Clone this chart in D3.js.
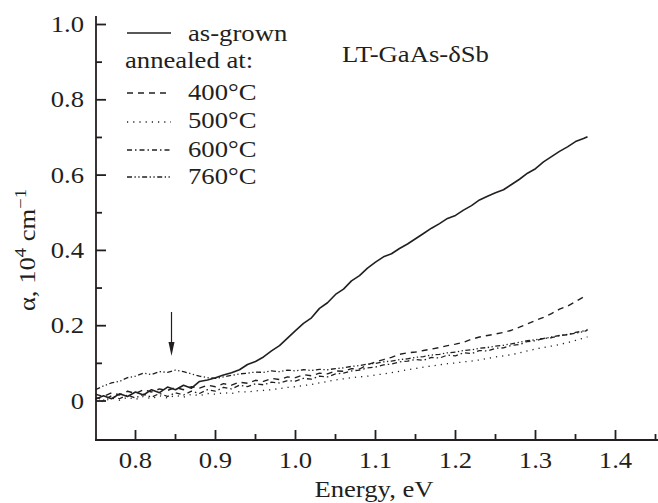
<!DOCTYPE html>
<html><head><meta charset="utf-8">
<script src="https://cdn.jsdelivr.net/npm/d3@7"></script>
<style>
html,body{margin:0;padding:0;background:#fff;}
svg text{font-family:"Liberation Serif","Times New Roman","DejaVu Serif",serif;}
</style></head>
<body><svg id="c" width="658" height="503"></svg>
<script>
const energy = [0.75,0.76,0.77,0.78,0.79,0.80,0.81,0.82,0.83,0.84,0.85,0.86,0.87,0.88,0.89,0.90,0.91,0.92,0.93,0.94,0.95,0.96,0.97,0.98,0.99,1.00,1.01,1.02,1.03,1.04,1.05,1.06,1.07,1.08,1.09,1.10,1.11,1.12,1.13,1.14,1.15,1.16,1.17,1.18,1.19,1.20,1.21,1.22,1.23,1.24,1.25,1.26,1.27,1.28,1.29,1.30,1.31,1.32,1.33,1.34,1.35,1.36,1.365];
const asGrown = [0.005,0.014,0.006,0.019,0.012,0.024,0.016,0.030,0.022,0.037,0.030,0.042,0.034,0.052,0.056,0.062,0.069,0.075,0.083,0.097,0.105,0.117,0.133,0.147,0.167,0.187,0.206,0.221,0.246,0.261,0.283,0.297,0.319,0.333,0.353,0.369,0.383,0.391,0.405,0.417,0.431,0.445,0.459,0.471,0.485,0.493,0.507,0.519,0.534,0.544,0.553,0.561,0.575,0.589,0.605,0.617,0.635,0.649,0.663,0.675,0.689,0.697,0.702];
const ann400 = [0.018,0.012,0.022,0.016,0.026,0.020,0.030,0.024,0.032,0.028,0.036,0.030,0.038,0.034,0.042,0.038,0.046,0.042,0.050,0.047,0.055,0.052,0.060,0.057,0.064,0.062,0.070,0.067,0.074,0.072,0.080,0.079,0.086,0.085,0.096,0.104,0.110,0.116,0.124,0.128,0.130,0.134,0.138,0.142,0.147,0.151,0.156,0.164,0.170,0.174,0.178,0.182,0.188,0.196,0.205,0.214,0.222,0.232,0.244,0.252,0.264,0.276,0.280];
const ann500 = [0.004,-0.002,0.008,0.002,0.010,0.004,0.012,0.006,0.014,0.008,0.015,0.010,0.018,0.014,0.020,0.018,0.022,0.020,0.025,0.024,0.027,0.028,0.030,0.033,0.036,0.038,0.041,0.044,0.048,0.052,0.056,0.059,0.062,0.064,0.066,0.069,0.072,0.075,0.079,0.083,0.086,0.090,0.093,0.096,0.099,0.101,0.104,0.106,0.109,0.113,0.117,0.120,0.123,0.128,0.133,0.138,0.142,0.146,0.150,0.155,0.161,0.167,0.170];
const ann600 = [0.010,0.002,0.014,0.006,0.016,0.008,0.018,0.010,0.020,0.012,0.022,0.016,0.026,0.020,0.030,0.026,0.036,0.032,0.042,0.038,0.046,0.043,0.050,0.048,0.054,0.053,0.060,0.058,0.066,0.064,0.072,0.074,0.080,0.082,0.088,0.090,0.096,0.098,0.104,0.106,0.110,0.108,0.116,0.114,0.122,0.120,0.128,0.126,0.134,0.133,0.140,0.141,0.148,0.150,0.158,0.160,0.166,0.168,0.174,0.176,0.182,0.186,0.190];
const ann760 = [0.030,0.040,0.048,0.052,0.062,0.066,0.074,0.070,0.078,0.076,0.082,0.078,0.072,0.066,0.062,0.060,0.064,0.068,0.072,0.074,0.077,0.076,0.080,0.078,0.082,0.080,0.083,0.081,0.084,0.083,0.086,0.088,0.092,0.094,0.098,0.100,0.104,0.106,0.110,0.112,0.116,0.118,0.122,0.124,0.128,0.130,0.134,0.136,0.140,0.142,0.146,0.148,0.152,0.156,0.160,0.163,0.166,0.170,0.174,0.177,0.180,0.184,0.188];
const seriesNames = ["as-grown","400°C","500°C","600°C","760°C"];
const xTicks = [0.8,0.9,1.0,1.1,1.2,1.3,1.4];
const xMinor = [0.85,0.95,1.05,1.15,1.25,1.35,1.45];
const yTicks = [0,0.2,0.4,0.6,0.8,1.0];
const yMinor = [0.1,0.3,0.5,0.7,0.9];
const yTickLabels = ["0","0.2","0.4","0.6","0.8","1.0"];
const arrowE = 0.845;

const ink = "#231f20";
const FF = "'Liberation Serif','Times New Roman','DejaVu Serif',serif";
const svg = d3.select("#c");
const x = d3.scaleLinear().domain([0.75,1.45]).range([95.5,655.5]);
const y = d3.scaleLinear().domain([0,1]).range([401,24.5]);
const x0 = 96, yB = 440;

const styles = [
  {data: asGrown, dash: null, w: 1.6},
  {data: ann400, dash: "6,5", w: 1.4},
  {data: ann500, dash: "1.2,5", w: 1.3},
  {data: ann600, dash: "5,3,1.5,3", w: 1.3},
  {data: ann760, dash: "5,2.5,1.3,2.5,1.3,2.5", w: 1.3}
];

const line = d3.line().x((d,i)=>x(energy[i])).y(d=>y(d));
const g = svg.append("g");
[4,3,2,1,0].forEach(k=>{
  const s = styles[k];
  g.append("path").datum(s.data).attr("d", line)
    .attr("fill","none").attr("stroke",ink).attr("stroke-width",s.w)
    .attr("stroke-linejoin","round")
    .attr("stroke-dasharray", s.dash);
});

const ax = svg.append("g").attr("stroke",ink).attr("stroke-width",1.8);
ax.append("line").attr("x1",x0).attr("x2",x0).attr("y1",16).attr("y2",yB+0.9);
ax.append("line").attr("x1",x0-0.9).attr("x2",658).attr("y1",yB).attr("y2",yB);
yTicks.forEach(v=>ax.append("line").attr("x1",x0).attr("x2",x0+10).attr("y1",y(v)).attr("y2",y(v)));
yMinor.forEach(v=>ax.append("line").attr("x1",x0).attr("x2",x0+6).attr("y1",y(v)).attr("y2",y(v)));
xTicks.forEach(v=>ax.append("line").attr("x1",x(v)).attr("x2",x(v)).attr("y1",yB).attr("y2",yB-10));
xMinor.forEach(v=>ax.append("line").attr("x1",x(v)).attr("x2",x(v)).attr("y1",yB).attr("y2",yB-6));

const fs = 23, SX = 1.16;
function T(xp,yp,anchor){
  return svg.append("text").attr("transform",`translate(${xp},${yp}) scale(${SX},1)`)
    .attr("text-anchor",anchor||"start").attr("font-family",FF).attr("font-size",fs).attr("fill",ink);
}
yTicks.forEach((v,i)=>T(84,y(v)+7.5,"end").text(yTickLabels[i]));
xTicks.forEach(v=>T(x(v),468,"middle").text(d3.format(".1f")(v)));

T(374,497,"middle").text("Energy, eV");

const yl = svg.append("text").attr("transform",`translate(35,250) rotate(-90) scale(${SX},1)`)
  .attr("text-anchor","middle").attr("font-family",FF).attr("font-size",fs).attr("fill",ink);
yl.append("tspan").text("α, 10");
yl.append("tspan").attr("dy",-9).attr("font-size",16).text("4");
yl.append("tspan").attr("dy",9).text(" cm");
yl.append("tspan").attr("dy",-9).attr("font-size",16).text("−1");

T(342,62).text("LT-GaAs-δSb");

const legY = [33,93,122,150,177];
const txtY = [41,100,128,157,184];
seriesNames.forEach((n,i)=>{
  svg.append("line").attr("x1",127).attr("x2",171).attr("y1",legY[i]).attr("y2",legY[i])
    .attr("stroke",ink).attr("stroke-width",styles[i].w).attr("stroke-dasharray",styles[i].dash);
  T(188,txtY[i]).text(n);
});
T(125,68).text("annealed at:");

const ax2 = x(arrowE);
svg.append("line").attr("x1",ax2).attr("x2",ax2).attr("y1",312).attr("y2",345)
  .attr("stroke",ink).attr("stroke-width",1.2);
svg.append("path").attr("d",`M${ax2-3},${342}L${ax2+3},${342}L${ax2},${356}Z`).attr("fill",ink);
</script></body></html>
